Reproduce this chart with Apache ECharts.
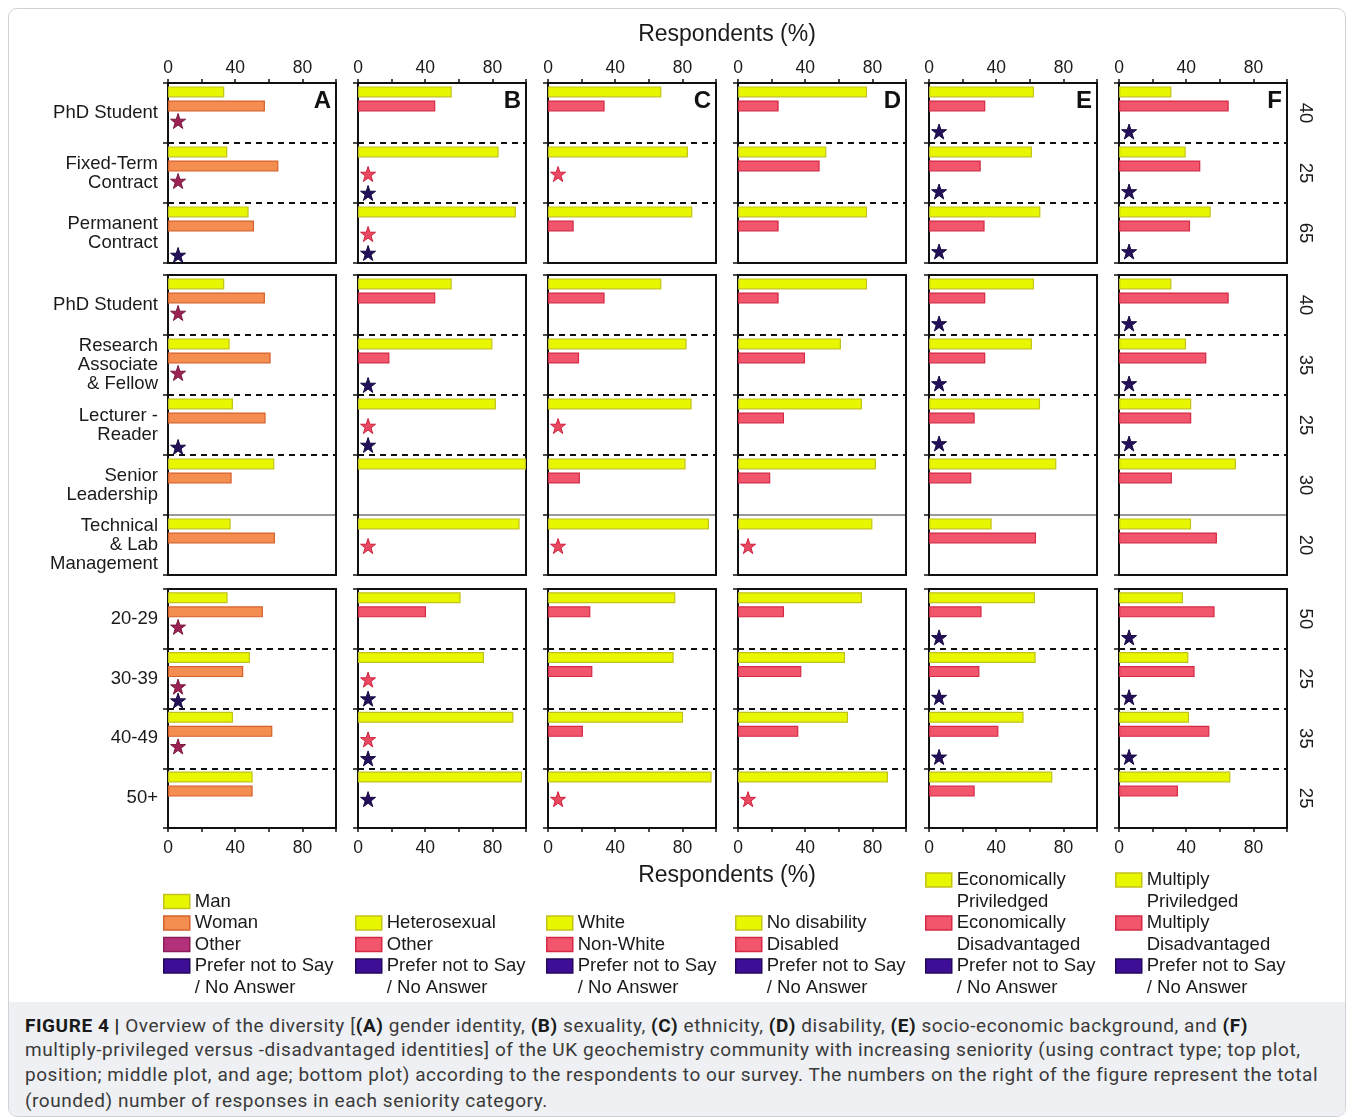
<!DOCTYPE html>
<html>
<head>
<meta charset="utf-8">
<title>Figure 4</title>
<script src="https://cdn.jsdelivr.net/npm/echarts@6/dist/echarts.min.js"></script>
<style>
  html, body { margin: 0; padding: 0; background: #fff; }
  #frame { position: absolute; left: 8px; top: 8px; width: 1336px; height: 1107px;
           border: 1px solid #cfd3d8; border-radius: 9px; overflow: hidden; }
  #caption { position: absolute; left: 0; bottom: 0; width: 1336px; height: 114px; background: #eef0f3;
             font-family: Roboto, "Noto Sans", sans-serif; font-size: 19px; letter-spacing: 0.55px; color: #3a3a3a; }
  #caption .ln { position: absolute; left: 16px; white-space: nowrap; line-height: 25px; }
  #caption b { color: #1a1a1a; }
  #chart { position: absolute; left: 0; top: 0; width: 1354px; height: 1000px; }
</style>
</head>
<body>
<div id="frame">
  <div id="caption">
    <div class="ln" style="top:11px"><b>FIGURE 4 |</b> Overview of the diversity [<b>(A)</b> gender identity, <b>(B)</b> sexuality, <b>(C)</b> ethnicity, <b>(D)</b> disability, <b>(E)</b> socio-economic background, and <b>(F)</b></div>
    <div class="ln" style="top:35px">multiply-privileged versus -disadvantaged identities] of the UK geochemistry community with increasing seniority (using contract type; top plot,</div>
    <div class="ln" style="top:60px">position; middle plot, and age; bottom plot) according to the respondents to our survey. The numbers on the right of the figure represent the total</div>
    <div class="ln" style="top:86px">(rounded) number of responses in each seniority category.</div>
  </div>
</div>
<div id="chart"></div>
<script>
const FONT = '"Liberation Sans", Arial, sans-serif';
const PREFER = 'Prefer not to Say\n/ No Answer';

// seniority rows: contract type (top), position (middle), age (bottom)
const contractRows = ['PhD Student', 'Fixed-Term\nContract', 'Permanent\nContract'];
const positionRows = ['PhD Student', 'Research\nAssociate\n& Fellow', 'Lecturer -\nReader', 'Senior\nLeadership', 'Technical\n& Lab\nManagement'];
const ageRows = ['20-29', '30-39', '40-49', '50+'];
const contractCounts = [40, 25, 65];
const positionCounts = [40, 35, 25, 30, 20];
const ageCounts = [50, 25, 35, 25];

// every series below = 3 contract rows + 5 position rows + 4 age rows
// stars mark small groups, drawn at 6 %
const man          = [33.5, 35.3, 48.0,  33.5, 36.7, 38.7, 63.3, 37.3,  35.5, 48.8, 38.7, 50.4];
const woman        = [57.7, 65.7, 51.2,  57.7, 61.1, 58.1, 37.9, 63.7,  56.5, 44.8, 62.1, 50.4];
const genderOther  = [6, 6, '-',  6, 6, '-', '-', '-',  6, 6, 6, '-'];
const genderPrefer = ['-', '-', 6,  '-', '-', 6, '-', '-',  '-', 6, '-', '-'];

const heterosexual      = [55.8, 83.7, 94.0,  55.8, 80.0, 82.1, 100, 96.2,  61.1, 75.0, 92.5, 97.6];
const sexualityOther    = [46.0, '-', '-',  46.0, 18.7, '-', '-', '-',  40.5, '-', '-', '-'];
const sexualityOtherLow = ['-', 6, 6,  '-', '-', 6, '-', 6,  '-', 6, 6, '-'];
const sexualityPrefer   = ['-', 6, 6,  '-', 6, 6, '-', '-',  '-', 6, 6, 6];

const white       = [67.5, 83.3, 85.9,  67.5, 82.5, 85.5, 81.9, 95.8,  75.8, 74.8, 80.4, 97.4];
const nonWhite    = [33.7, '-', 15.3,  33.7, 18.5, '-', 19.0, '-',  25.2, 26.4, 20.8, '-'];
const nonWhiteLow = ['-', 6, '-',  '-', '-', 6, '-', 6,  '-', '-', '-', 6];

const noDisability = [76.8, 52.6, 76.8,  76.8, 61.3, 73.8, 82.1, 80.0,  73.8, 63.7, 65.5, 89.3];
const disabled     = [24.2, 48.6, 24.2,  24.2, 39.9, 27.4, 19.2, '-',  27.4, 37.7, 35.9, '-'];
const disabledLow  = ['-', '-', '-',  '-', '-', '-', '-', 6,  '-', '-', '-', 6];

const econPriv   = [62.5, 61.3, 66.3,  62.5, 61.3, 66.1, 75.8, 37.3,  63.1, 63.5, 56.3, 73.4];
const econDis    = [33.5, 30.8, 33.1,  33.5, 33.5, 27.2, 25.2, 63.7,  31.3, 30.0, 41.3, 27.2];
const econPrefer = [6, 6, 6,  6, 6, 6, '-', '-',  6, 6, 6, '-'];

const multiPriv   = [31.2, 39.7, 54.6,  31.2, 39.9, 43.0, 69.6, 42.9,  38.1, 41.3, 41.7, 66.3];
const multiDis    = [65.3, 48.4, 42.3,  65.3, 52.0, 43.0, 31.5, 58.3,  56.9, 45.0, 53.8, 35.1];
const multiPrefer = [6, 6, 6,  6, 6, 6, '-', '-',  6, 6, 6, '-'];

// (panel, row) where the prefer-not-to-say star sits in the middle of the row
const preferCentred = [[1, 11]];

// colours
const YELLOW = {color: '#e8f600', borderColor: '#c2c21e'};
const ORANGE = {color: '#f48d50', borderColor: '#d5612c'};
const RED = {color: '#f2566c', borderColor: '#d42a46'};
const MAROON = {color: '#9b2252', borderColor: '#78183e'};
const RED_STAR = {color: '#ea4a61', borderColor: '#cf1f3c'};
const NAVY = {color: '#24105a', borderColor: '#150840'};
const LEG_OTHER = {color: '#b3307a', borderColor: '#8a1f58'};
const LEG_PREFER = {color: '#3e0f96', borderColor: '#23085c'};

const STAR = 'path://M50,0 L61.8,35.1 L98.6,35.1 L68.8,57.1 L80.3,91.9 L50,70.5 L19.7,91.9 L31.2,57.1 L1.4,35.1 L38.2,35.1 Z';
// legend box pinned to the first line of a two-line label
const ICON_TOP = 'path://M0,0 H26 V14 H0 Z M0,35.5 L0.01,35.5';

const panels = [
  {letter: 'A', names: ['Man', 'Woman', 'Other'], bars: [man, woman], barStyle: [YELLOW, ORANGE],
   low: genderOther, lowStyle: MAROON, lowShift: 8, prefer: genderPrefer, preferShift: 22,
   legend: [['Man', YELLOW], ['Woman', ORANGE], ['Other', LEG_OTHER], [PREFER, LEG_PREFER]]},
  {letter: 'B', names: ['Heterosexual', 'Other', 'Other'], bars: [heterosexual, sexualityOther], barStyle: [YELLOW, RED],
   low: sexualityOtherLow, lowStyle: RED_STAR, lowShift: 1, prefer: sexualityPrefer, preferShift: 20,
   legend: [['Heterosexual', YELLOW], ['Other', RED], [PREFER, LEG_PREFER]]},
  {letter: 'C', names: ['White', 'Non-White', 'Non-White'], bars: [white, nonWhite], barStyle: [YELLOW, RED],
   low: nonWhiteLow, lowStyle: RED_STAR, lowShift: 1, prefer: null, preferShift: 20,
   legend: [['White', YELLOW], ['Non-White', RED], [PREFER, LEG_PREFER]]},
  {letter: 'D', names: ['No disability', 'Disabled', 'Disabled'], bars: [noDisability, disabled], barStyle: [YELLOW, RED],
   low: disabledLow, lowStyle: RED_STAR, lowShift: 1, prefer: null, preferShift: 20,
   legend: [['No disability', YELLOW], ['Disabled', RED], [PREFER, LEG_PREFER]]},
  {letter: 'E', names: ['Economically\nPriviledged', 'Economically\nDisadvantaged'], bars: [econPriv, econDis], barStyle: [YELLOW, RED],
   low: null, prefer: econPrefer, preferShift: 18.5,
   legend: [['Economically\nPriviledged', YELLOW], ['Economically\nDisadvantaged', RED], [PREFER, LEG_PREFER]]},
  {letter: 'F', names: ['Multiply\nPriviledged', 'Multiply\nDisadvantaged'], bars: [multiPriv, multiDis], barStyle: [YELLOW, RED],
   low: null, prefer: multiPrefer, preferShift: 18.5,
   legend: [['Multiply\nPriviledged', YELLOW], ['Multiply\nDisadvantaged', RED], [PREFER, LEG_PREFER]]}
];

const blocks = [
  {rows: contractRows, counts: contractCounts, top: 83, height: 180, xPos: 'top', labelGap: 6},
  {rows: positionRows, counts: positionCounts, top: 275, height: 300, xPos: null, labelGap: 6},
  {rows: ageRows, counts: ageCounts, top: 589, height: 239, xPos: 'bottom', labelGap: 11}
];
const colLeft = [168, 358, 548, 738, 929, 1119];
const colWidth = 168;
const legendLeft = [163, 355, 546, 735, 925, 1115];

const grids = [], xAxes = [], yAxes = [], series = [], titles = [], legends = [];

let start = 0;
blocks.forEach((blk, b) => {
  const n = blk.rows.length;
  panels.forEach((p, c) => {
    const g = grids.length;
    grids.push({left: colLeft[c], top: blk.top, width: colWidth, height: blk.height,
      show: true, borderColor: '#111', borderWidth: 2, backgroundColor: 'transparent',
      containLabel: false, outerBoundsMode: 'none'});

    const showX = blk.xPos !== null;
    xAxes.push({gridIndex: g, type: 'value', min: 0, max: 100, interval: 20, position: blk.xPos || 'bottom',
      axisLine: {show: true, lineStyle: {color: '#111', width: 2}},
      axisTick: {show: showX, length: 4, lineStyle: {color: '#111', width: 1.5}},
      axisLabel: {show: showX, margin: blk.labelGap, fontSize: 17.5, color: '#1a1a1a', fontFamily: FONT,
        formatter: v => (v % 40 === 0 && v < 100) ? String(v) : ''},
      splitLine: {show: false}});

    const yMain = yAxes.length;
    yAxes.push({gridIndex: g, type: 'category', inverse: true, position: 'left', data: blk.rows,
      axisLine: {show: true, lineStyle: {color: '#111', width: 2}},
      axisTick: {show: true, interval: 0, length: 5, lineStyle: {color: '#111', width: 1.5}},
      axisLabel: {show: c === 0, interval: 0, margin: 10, fontSize: 18.5, lineHeight: 19,
        color: '#1a1a1a', fontFamily: FONT},
      splitLine: {show: true, interval: b === 1 ? (i => i !== 4) : 0,
        lineStyle: {color: '#111', width: 2, type: [6, 5]}}});

    if (b === 1) {
      // plain grey rule above the technical staff row
      yAxes.push({gridIndex: g, type: 'category', inverse: true, position: 'left', data: blk.rows, z: -1,
        axisLine: {show: false}, axisTick: {show: false}, axisLabel: {show: false},
        splitLine: {show: true, interval: i => i === 0 || i === 4, lineStyle: {color: '#9a9a9a', width: 2}}});
    }
    if (c === panels.length - 1) {
      yAxes.push({gridIndex: g, type: 'category', inverse: true, position: 'right', data: blk.rows,
        axisLine: {show: false}, axisTick: {show: false}, splitLine: {show: false},
        axisLabel: {interval: 0, rotate: -90, margin: 9, fontSize: 18.5, color: '#1a1a1a', fontFamily: FONT,
          formatter: (v, i) => String(blk.counts[i])}});
    }

    p.bars.forEach((arr, k) => {
      series.push({type: 'bar', name: p.names[k], xAxisIndex: g, yAxisIndex: yMain,
        data: arr.slice(start, start + n), barWidth: 11, barGap: '28%',
        itemStyle: Object.assign({borderWidth: 1.2}, p.barStyle[k]), z: 3});
    });
    // two empty slots so the bars sit in the upper part of each row
    for (let k = 0; k < 2; k++) {
      series.push({type: 'bar', name: '_slot' + k, xAxisIndex: g, yAxisIndex: yMain,
        data: blk.rows.map(() => '-'), barWidth: 11, barGap: '28%', silent: true});
    }

    const stars = (arr, name, style, shift) => {
      const data = [];
      arr.slice(start, start + n).forEach((v, i) => {
        if (v === '-') return;
        const centred = name === PREFER && preferCentred.some(e => e[0] === c && e[1] === start + i);
        data.push({value: [v, i], symbolOffset: [0, centred ? 1 : shift]});
      });
      series.push({type: 'scatter', name: name, xAxisIndex: g, yAxisIndex: yMain, data: data,
        symbol: STAR, symbolSize: 15, itemStyle: Object.assign({borderWidth: 1, opacity: 1}, style), z: 4});
    };
    if (p.low) stars(p.low, p.names[2], p.lowStyle, p.lowShift);
    if (p.prefer) stars(p.prefer, PREFER, NAVY, p.preferShift);

    if (b === 0) {
      titles.push({text: p.letter, left: colLeft[c] + colWidth - 5, top: blk.top + 18, padding: 0,
        textAlign: 'right', textVerticalAlign: 'middle',
        textStyle: {fontSize: 24, fontWeight: 'bold', color: '#111', fontFamily: FONT}});
    }
  });
  start += n;
});

titles.push({text: 'Respondents (%)', left: 727, top: 35, padding: 0, textAlign: 'center', textVerticalAlign: 'middle',
  textStyle: {fontSize: 23, fontWeight: 'normal', color: '#1a1a1a', fontFamily: FONT}});
titles.push({text: 'Respondents (%)', left: 727, top: 876, padding: 0, textAlign: 'center', textVerticalAlign: 'middle',
  textStyle: {fontSize: 23, fontWeight: 'normal', color: '#1a1a1a', fontFamily: FONT}});

// legend: one entry per component, stacked upward from the last line
panels.forEach((p, c) => {
  let y = 966;
  for (let k = p.legend.length - 1; k >= 0; k--) {
    const [name, style] = p.legend[k];
    const lines = name.split('\n').length;
    if (k < p.legend.length - 1) y -= 21.5 * lines;
    legends.push({show: true, left: legendLeft[c], top: y - 10.75, orient: 'vertical', padding: 0,
      itemWidth: 26, itemHeight: lines > 1 ? 35.5 : 14, selectedMode: false,
      textStyle: {fontSize: 18.5, lineHeight: 21.5, color: '#1a1a1a', fontFamily: FONT},
      data: [{name: name, icon: lines > 1 ? ICON_TOP : 'rect',
        itemStyle: {color: style.color, borderColor: style.borderColor, borderWidth: 1.5, opacity: 1}}]});
  }
});

const chart = echarts.init(document.getElementById('chart'));
chart.setOption({
  animation: false,
  backgroundColor: 'transparent',
  title: titles,
  legend: legends,
  grid: grids,
  xAxis: xAxes,
  yAxis: yAxes,
  series: series
});
</script>
</body>
</html>
